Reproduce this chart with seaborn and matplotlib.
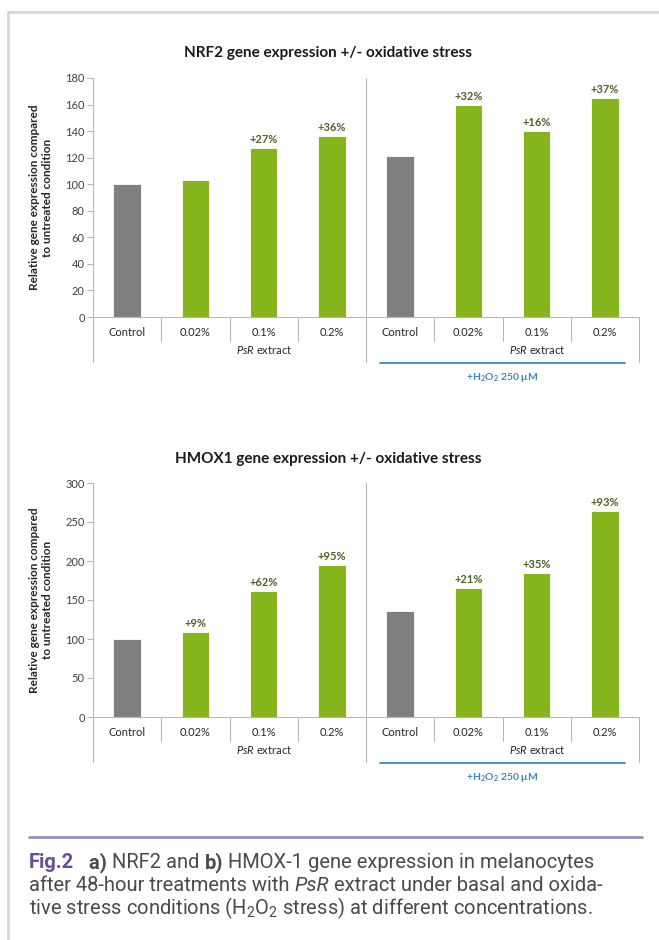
import numpy as np
import pandas as pd
import seaborn as sns
import matplotlib.pyplot as plt
from matplotlib.lines import Line2D

# Chart values
conditions = ["Control", "0.02%", "0.1%", "0.2%", "Control", "0.02%", "0.1%", "0.2%"]
groups = ["basal"] * 4 + ["h2o2"] * 4
kinds = ["control", "extract", "extract", "extract"] * 2
nrf2_values = [100, 103, 127, 136, 121, 160, 140, 165]
nrf2_labels = ["", "", "+27%", "+36%", "", "+32%", "+16%", "+37%"]
hmox1_values = [100, 109, 162, 195, 136, 165, 184, 264]
hmox1_labels = ["", "+9%", "+62%", "+95%", "", "+21%", "+35%", "+93%"]
nrf2_ticks = [0, 20, 40, 60, 80, 100, 120, 140, 160, 180]
hmox1_ticks = [0, 50, 100, 150, 200, 250, 300]

W, H = 659, 940
GRAY_LINE = "#b8b8b8"
palette = {"control": "#7f7f7f", "extract": "#86b41d"}

sns.set_theme(style="white")
plt.rcParams["font.family"] = ["Lato", "DejaVu Sans"]
plt.rcParams["mathtext.fontset"] = "custom"
plt.rcParams["mathtext.rm"] = "Lato"
plt.rcParams["mathtext.it"] = "Lato:italic"
plt.rcParams["mathtext.bf"] = "Lato:bold"


# Draws one bar panel; top/bottom are pixel rows of the axis ends
def plotPanel(fig, top, bottom, values, labels, ticks, title, title_y):
    ax = fig.add_axes([93 / W, 1 - bottom / H, 546 / W, (bottom - top) / H])
    df = pd.DataFrame({"key": [f"{g} {c}" for g, c in zip(groups, conditions)],
                       "value": values, "kind": kinds})
    sns.barplot(data=df, x="key", y="value", hue="kind", palette=palette,
                dodge=False, width=0.4, legend=False, saturation=1,
                edgecolor="white", linewidth=0.6, ax=ax)
    ax.set_xlim(-0.5, 7.5)
    ax.set_ylim(0, ticks[-1])
    ax.set_yticks(ticks)
    ax.set_xticks([])
    ax.set_xlabel("")
    ax.set_ylabel("")
    ax.tick_params(axis="y", left=True, length=4, width=0.8, color=GRAY_LINE,
                   labelsize=8, labelcolor="#404040", pad=2)
    for s in ["top", "right"]:
        ax.spines[s].set_visible(False)
    for s in ["left", "bottom"]:
        ax.spines[s].set_color(GRAY_LINE)
        ax.spines[s].set_linewidth(0.8)

    h = ax.bbox.height
    tr = ax.get_xaxis_transform()
    low = -45 / h
    ax.plot([-0.5, -0.5], [0, low], transform=tr, clip_on=False, color=GRAY_LINE, lw=0.8)
    ax.plot([3.5, 3.5], [1, low], transform=tr, clip_on=False, color=GRAY_LINE, lw=0.8)
    ax.plot([7.5, 7.5], [0, low], transform=tr, clip_on=False, color=GRAY_LINE, lw=0.8)
    for x in [0.5, 1.5, 2.5, 4.5, 5.5, 6.5]:
        ax.plot([x, x], [0, -24 / h], transform=tr, clip_on=False, color=GRAY_LINE, lw=0.8)
    ax.plot([3.7, 7.3], [-46 / h, -46 / h], transform=tr, clip_on=False, color="#4a8fd6", lw=1.4)

    for i, c in enumerate(conditions):
        ax.annotate(c, xy=(i, 0), xycoords=("data", "axes fraction"), xytext=(0, -15),
                    textcoords="offset pixels", ha="center", va="center",
                    fontsize=8, color="#262626")
    for x in [2, 6]:
        ax.annotate("$\\it{PsR}$ extract", xy=(x, 0), xycoords=("data", "axes fraction"),
                    xytext=(0, -33), textcoords="offset pixels", ha="center", va="center",
                    fontsize=8, color="#262626")
    ax.annotate("$\\mathbf{+H_2O_2\\ 250\\ \\mu M}$", xy=(5.5, 0),
                xycoords=("data", "axes fraction"), xytext=(0, -61),
                textcoords="offset pixels", ha="center", va="center",
                fontsize=7.5, color="#3a86d0")

    for i, (v, lab) in enumerate(zip(values, labels)):
        if lab:
            ax.annotate(lab, xy=(i, v), xytext=(0, 3), textcoords="offset pixels",
                        ha="center", va="bottom", fontsize=8, fontweight="bold",
                        color="#4f6228")

    fig.text(328 / W, 1 - title_y / H, title, ha="center", va="center",
             fontsize=11, fontweight="bold", color="#1a1a1a")
    fig.text(41 / W, 1 - (top + bottom) / 2 / H,
             "Relative gene expression compared\nto untreated condition",
             rotation=90, ha="center", va="center", fontsize=8.5,
             fontweight="bold", color="#262626", linespacing=1.2)
    return ax


# Writes text pieces one after another on a line
def writeLine(fig, renderer, x, y, pieces):
    for text, style in pieces:
        t = fig.text(x / W, 1 - y / H, text, ha="left", va="baseline", **style)
        x += t.get_window_extent(renderer).width


def main():
    fig = plt.figure(figsize=(W / 100, H / 100), dpi=100)
    fig.patch.set_facecolor("white")

    plotPanel(fig, 78, 317, nrf2_values, nrf2_labels, nrf2_ticks,
              "NRF2 gene expression +/- oxidative stress", 53)
    plotPanel(fig, 483, 717, hmox1_values, hmox1_labels, hmox1_ticks,
              "HMOX1 gene expression +/- oxidative stress", 459)

    # box edges and caption rule
    fig.add_artist(Line2D([8 / W, 8 / W], [0, 1 - 12 / H], color="#d6d6d6", lw=2))
    fig.add_artist(Line2D([8 / W, 1], [1 - 12 / H, 1 - 12 / H], color="#d6d6d6", lw=2))
    fig.add_artist(Line2D([29 / W, 642 / W], [1 - 837 / H, 1 - 837 / H], color="#9d8bc3", lw=2))

    cap = {"family": ["Roboto", "DejaVu Sans"], "fontsize": 14.5, "color": "#4a4a4a"}
    bold = dict(cap, fontweight="bold")
    ital = dict(cap, style="italic")
    fig_lbl = dict(cap, fontweight="bold", color="#6a4c9c")
    plt.rcParams["mathtext.rm"] = "Roboto"
    renderer = fig.canvas.get_renderer()
    writeLine(fig, renderer, 29, 868, [("Fig.2", fig_lbl), ("   a)", bold),
                                       (" NRF2 and ", cap), ("b)", bold),
                                       (" HMOX-1 gene expression in melanocytes", cap)])
    writeLine(fig, renderer, 29, 891, [("after 48-hour treatments with ", cap), ("PsR", ital),
                                       (" extract under basal and oxida-", cap)])
    writeLine(fig, renderer, 29, 914, [("tive stress conditions (H$_2$O$_2$ stress) at different concentrations.", cap)])

    plt.savefig("out.png", dpi=100)


if __name__ == "__main__":
    main()
